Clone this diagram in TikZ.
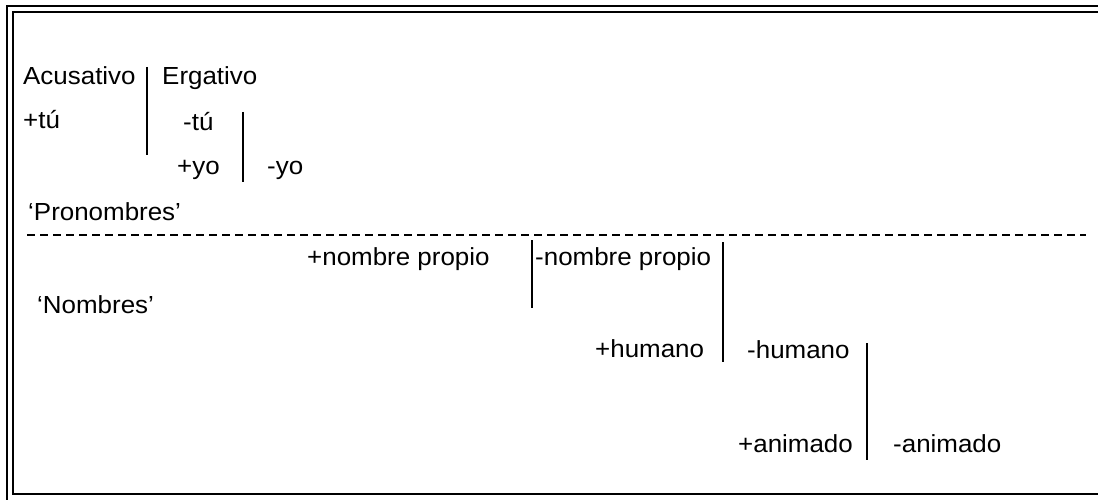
\documentclass[tikz,border=0pt]{standalone}
\usepackage{fontspec}
\setmainfont[FakeStretch=1.05]{Liberation Sans}

\begin{document}
\begin{tikzpicture}[x=1pt, y=-1pt]
	% estilos
	\tikzstyle{lbl} = [inner sep=0pt, anchor=base west, font=\fontsize{24.7}{30}\selectfont]
	\tikzstyle{sep} = [line width=2pt]
	\tikzstyle{frame} = [line width=2pt]
	\tikzstyle{cut} = [line width=1.2pt, dash pattern=on 8pt off 5pt]
	
	\useasboundingbox (0,0) rectangle (1098,500);
	\clip (0,0) rectangle (1098,500);
	
	% marco doble
	\draw [frame] (7,6) rectangle (1110,512);
	\draw [frame] (13,12) rectangle (1104,494);
	
	% pronombres
	\node [lbl] (acus) at (23,85) {Acusativo};
	\node [lbl] (erg) at (162,85) {Ergativo};
	\node [lbl] (tuplus) at (23,129) {+tú};
	\node [lbl] (tuminus) at (183,131) {-tú};
	\node [lbl] (yoplus) at (177,175) {+yo};
	\node [lbl] (yominus) at (267,175) {-yo};
	\node [lbl] (pron) at (28,220) {‘Pronombres’};
	
	% nombres
	\node [lbl] (npplus) at (307,265) {+nombre propio};
	\node [lbl] (npminus) at (535,265) {-nombre propio};
	\node [lbl] (nom) at (37,313) {‘Nombres’};
	\node [lbl] (humplus) at (595,357) {+humano};
	\node [lbl] (humminus) at (747,358) {-humano};
	\node [lbl] (animplus) at (738,452) {+animado};
	\node [lbl] (animminus) at (893,452) {-animado};
	
	% separadores
	\draw [sep] (147,67) -- (147,155);
	\draw [sep] (243,112) -- (243,182);
	\draw [sep] (532,240) -- (532,308);
	\draw [sep] (723,242) -- (723,362);
	\draw [sep] (867,343) -- (867,460);
	\draw [cut] (27,235) -- (1086,235);
\end{tikzpicture}
\end{document}
